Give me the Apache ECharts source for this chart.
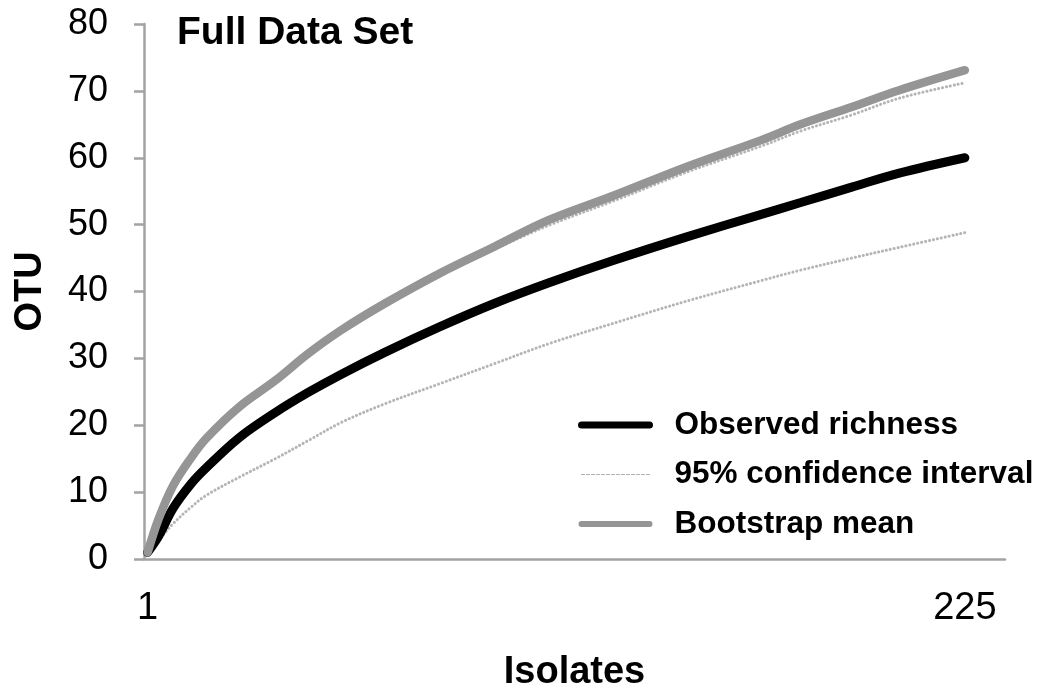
<!DOCTYPE html>
<html>
<head>
<meta charset="utf-8">
<script src="https://cdn.jsdelivr.net/npm/echarts@6/dist/echarts.min.js"></script>
<style>
  html, body { margin: 0; padding: 0; background: #fff; }
  #chart { width: 1045px; height: 689px; }
</style>
</head>
<body>
<div id="chart"></div>
<script>
// Number of isolates sampled
const isolates = [1, 4, 8, 13, 17, 26, 36, 45, 54, 66, 81, 96, 111, 129, 149, 169, 180, 194, 207, 225];
// Observed OTU richness
const observed = [1, 3.4, 7.6, 11.3, 13.6, 18.1, 21.9, 24.9, 27.6, 30.9, 34.7, 38.2, 41.3, 44.7, 48.2, 51.5, 53.3, 55.6, 57.7, 60.0];
// Bootstrap mean richness
const bootstrapMean = [1, 6, 11, 15.2, 18.0, 22.7, 26.7, 30.7, 34.2, 38.2, 42.7, 46.7, 50.7, 54.4, 58.7, 62.6, 65.0, 67.6, 70.1, 73.1];
// 95% confidence interval bounds
const ciUpper = [1, 5.8, 10.8, 15.0, 17.8, 22.5, 26.4, 30.4, 33.9, 37.9, 42.4, 46.3, 49.9, 53.6, 57.9, 61.7, 64.0, 66.4, 68.9, 71.2];
const ciLower = [1, 2.8, 5.3, 7.8, 9.5, 12.2, 15.0, 17.7, 20.4, 23.2, 26.2, 29.2, 32.2, 35.3, 38.6, 41.6, 43.2, 45.0, 46.6, 48.8];
// Axis labels
const xTickValues = [1, 225];
const yTicks = { min: 0, max: 80, step: 10 };

const pairs = (ys) => isolates.map((x, i) => [x, ys[i]]);

const FONT = 'Liberation Sans, Arial, sans-serif';
const AXIS_GRAY = '#a3a3a3';
const CI_NAME = '95% confidence interval';

const chart = echarts.init(document.getElementById('chart'), null, { renderer: 'canvas' });

const curve = (name, ys, lineStyle, z) => ({
  name,
  type: 'line',
  data: pairs(ys),
  symbol: 'none',
  smooth: 0.35,
  lineStyle,
  z
});

const ciStyle = { color: '#b5b5b5', width: 3, type: [0.1, 3.9], cap: 'round' };
const hiddenSymbol = { color: 'rgba(0,0,0,0)', borderWidth: 0 };

chart.setOption({
  animation: false,
  backgroundColor: '#ffffff',
  textStyle: { fontFamily: FONT },
  title: {
    text: 'Full Data Set',
    left: 177,
    top: 14,
    padding: 0,
    textStyle: { fontFamily: FONT, fontSize: 39, fontWeight: 'bold', color: '#000' }
  },
  grid: { left: 144, right: 40, top: 24, bottom: 130, containLabel: false, outerBoundsMode: 'none' },
  legend: {
    orient: 'vertical',
    left: 578,
    top: 408,
    padding: 0,
    itemWidth: 68,
    itemHeight: 14,
    itemGap: 15.5,
    itemStyle: hiddenSymbol,
    textStyle: {
      fontFamily: FONT, fontSize: 31.5, fontWeight: 'bold', color: '#000',
      lineHeight: 34, padding: [0, 0, 0, 20]
    },
    data: [
      { name: 'Observed richness', itemStyle: hiddenSymbol, lineStyle: { color: '#000', width: 7 } },
      { name: CI_NAME, itemStyle: hiddenSymbol, lineStyle: { color: '#b0b0b0', width: 1.2, type: [3, 2] } },
      { name: 'Bootstrap mean', itemStyle: hiddenSymbol, lineStyle: { color: '#959595', width: 6 } }
    ]
  },
  xAxis: {
    type: 'value',
    min: 0,
    max: 236,
    name: 'Isolates',
    nameLocation: 'middle',
    nameGap: 95,
    nameTextStyle: { fontFamily: FONT, fontSize: 38, fontWeight: 'bold', color: '#000' },
    axisLine: { show: true, lineStyle: { color: AXIS_GRAY, width: 2.5 } },
    axisTick: { show: false },
    splitLine: { show: false },
    axisLabel: {
      customValues: xTickValues,
      margin: 31,
      fontFamily: FONT, fontSize: 38, color: '#000'
    }
  },
  yAxis: {
    type: 'value',
    min: yTicks.min,
    max: yTicks.max,
    interval: yTicks.step,
    name: 'OTU',
    nameLocation: 'middle',
    nameGap: 94,
    nameTextStyle: { fontFamily: FONT, fontSize: 38, fontWeight: 'bold', color: '#000' },
    axisLine: { show: true, lineStyle: { color: AXIS_GRAY, width: 2.5 } },
    axisTick: { show: true, inside: false, length: 10, lineStyle: { color: AXIS_GRAY, width: 2.5 } },
    splitLine: { show: false },
    axisLabel: { margin: 36, fontFamily: FONT, fontSize: 36, color: '#000' }
  },
  series: [
    curve(CI_NAME, ciLower, ciStyle, 2),
    curve(CI_NAME, ciUpper, ciStyle, 2),
    curve('Observed richness', observed, { color: '#000', width: 9, cap: 'round' }, 3),
    curve('Bootstrap mean', bootstrapMean, { color: '#959595', width: 8.5, cap: 'round' }, 4)
  ]
});
</script>
</body>
</html>
